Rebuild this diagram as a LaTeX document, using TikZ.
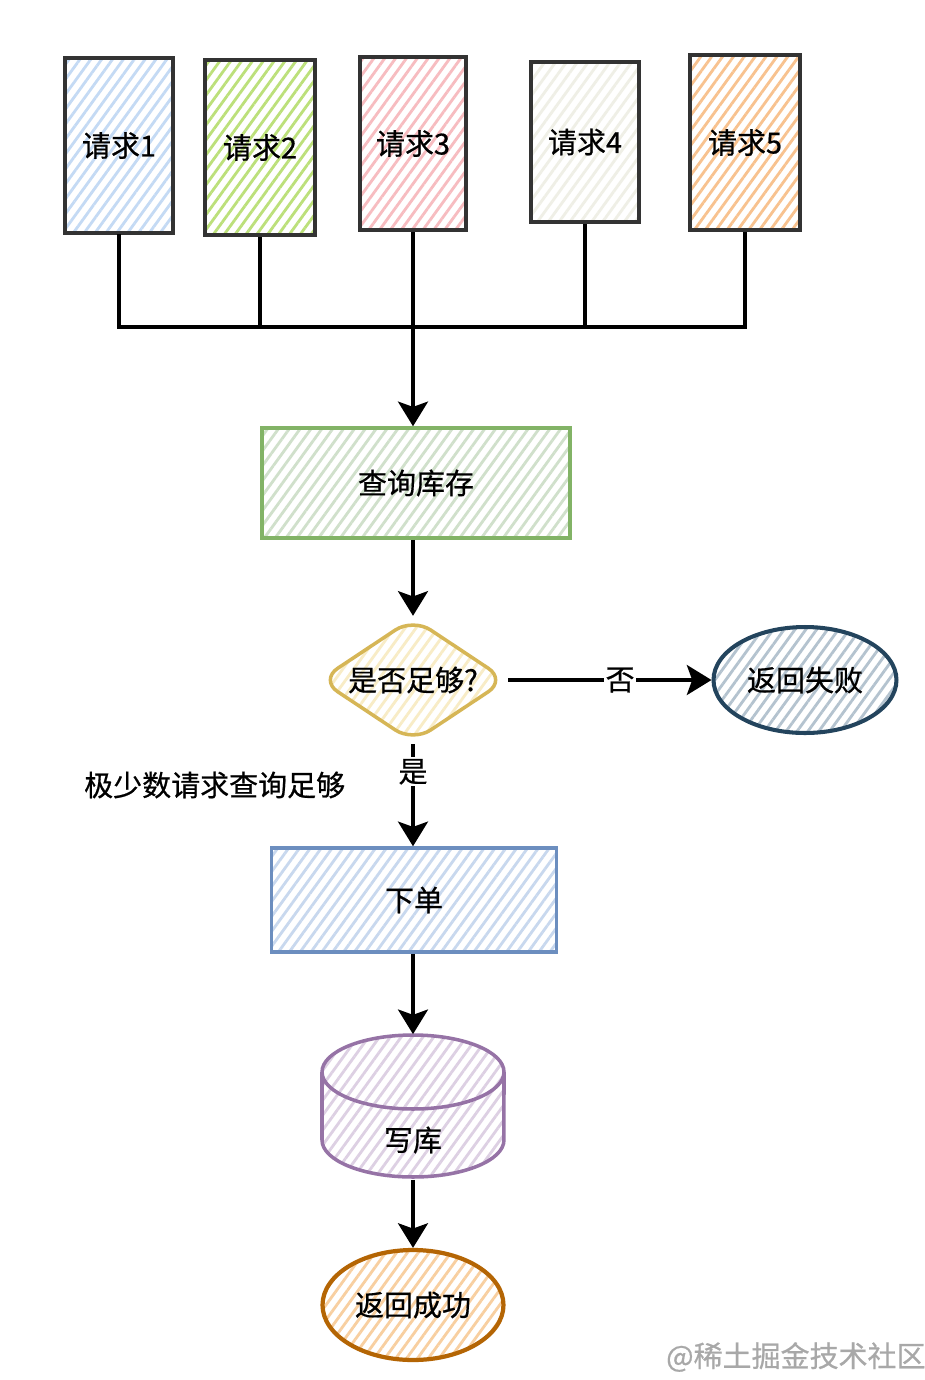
\documentclass[tikz,border=0pt]{standalone}
\usepackage{fontspec}
\newfontfamily\cjk[FakeBold=0.6]{Noto Sans CJK SC}
\usetikzlibrary{shapes.geometric,arrows.meta,patterns.meta}
\definecolor{reqborder}{HTML}{333333}
\definecolor{h1}{HTML}{C4DAF4}
\definecolor{h2}{HTML}{BCE07A}
\definecolor{h3}{HTML}{F7BCC0}
\definecolor{h4}{HTML}{EFEFE6}
\definecolor{h5}{HTML}{F8C28F}
\definecolor{qborder}{HTML}{82B366}
\definecolor{qhatch}{HTML}{D0E0CB}
\definecolor{dborder}{HTML}{D6B656}
\definecolor{dhatch}{HTML}{F8ECC6}
\definecolor{fborder}{HTML}{23445D}
\definecolor{fhatch}{HTML}{B4C3CF}
\definecolor{oborder}{HTML}{6C8EBF}
\definecolor{ohatch}{HTML}{C8D8EE}
\definecolor{cborder}{HTML}{9673A6}
\definecolor{chatch}{HTML}{DDD0E3}
\definecolor{sborder}{HTML}{B46504}
\definecolor{shatch}{HTML}{F8CFA0}
\definecolor{wm}{HTML}{A8A8A8}
\begin{document}
\begin{tikzpicture}[x=0.02cm,y=-0.02cm,
  txt/.style={font=\cjk\fontsize{16.5}{19}\selectfont, text=black},
  hatch/.style={pattern={Lines[angle=54,distance=5pt,line width=1.6pt]}, pattern color=#1},
  req/.style={txt, draw=reqborder, line width=2.4pt, minimum width=2.16cm, minimum height=3.5cm, inner sep=0pt, hatch=#1},
  proc/.style={txt, line width=2pt, inner sep=0pt},
  conn/.style={line width=2.2pt, black},
  arr/.style={conn, -{Stealth[length=14pt,width=17pt,inset=3pt]}},
  lbl/.style={txt, fill=white, inner sep=1pt}
]
\useasboundingbox (0,0) rectangle (924,1380);
\fill[white] (0,0) rectangle (924,1380);

% request boxes
\node[req=h1] (r1) at (119,145.5) {请求1};
\node[req=h2, minimum width=2.2cm] (r2) at (260,147.5) {请求2};
\node[req=h3, minimum width=2.12cm, minimum height=3.46cm] (r3) at (413,143.5) {请求3};
\node[req=h4, minimum height=3.2cm] (r4) at (585,142) {请求4};
\node[req=h5, minimum width=2.2cm] (r5) at (745,142.5) {请求5};

% process nodes
\node[proc, draw=qborder, hatch=qhatch, minimum width=6.16cm, minimum height=2.2cm] (q) at (416,483) {查询库存};
\node[proc, diamond, aspect=1.5, inner sep=2pt, draw=dborder, hatch=dhatch, rounded corners=12pt] (d) at (413,680) {是否足够?};
\node[proc, ellipse, draw=fborder, line width=2.3pt, hatch=fhatch, minimum width=3.66cm, minimum height=2.12cm] (f) at (805,680) {返回失败};
\node[proc, draw=oborder, hatch=ohatch, minimum width=5.7cm, minimum height=2.08cm] (o) at (414,900) {下单};

% cylinder (drawn by hand, named by node c)
\fill[white] (322,1072) -- (322,1140) arc[start angle=180,end angle=360,x radius=1.82cm,y radius=0.74cm] -- (504,1072) arc[start angle=0,end angle=180,x radius=1.82cm,y radius=0.74cm] -- cycle;
\path[hatch=chatch] (322,1072) -- (322,1140) arc[start angle=180,end angle=360,x radius=1.82cm,y radius=0.74cm] -- (504,1072) arc[start angle=0,end angle=180,x radius=1.82cm,y radius=0.74cm] -- cycle;
\draw[cborder, line width=2pt] (322,1072) -- (322,1140) arc[start angle=180,end angle=360,x radius=1.82cm,y radius=0.74cm] -- (504,1072);
\draw[cborder, line width=2pt] (413,1072) ellipse[x radius=1.82cm, y radius=0.74cm];
\node[txt, minimum width=3.64cm, minimum height=2.9cm, inner sep=0pt] (c) at (413,1107) {};
\node[txt] (ct) at (413,1140) {写库};

\node[proc, ellipse, draw=sborder, line width=2.4pt, hatch=shatch, minimum width=3.62cm, minimum height=2.2cm] (s) at (413,1305) {返回成功};

% bus
\coordinate (bus) at (413,327);
\draw[conn] (r1.south) |- (bus);
\draw[conn] (r2.south) |- (bus);
\draw[conn] (r4.south) |- (bus);
\draw[conn] (r5.south) |- (bus);
\draw[arr] (r3.south) -- (r3.south |- q.north);

% flow
\draw[arr] (d.north |- q.south) -- (d.north);
\draw[arr] (d.east) -- node[lbl, pos=0.55] (no) {否} (f.west);
\draw[arr] (d.south) -- node[lbl, pos=0.27] (yes) {是} (d.south |- o.north);
\draw[arr] (c.north |- o.south) -- (c.north);
\draw[arr] (c.south) -- (s.north);

% note
\node[txt, anchor=west] (note) at (78,785) {极少数请求查询足够};

% watermark
\node[txt, text=wm, anchor=west] (wmk) at (660,1357) {@稀土掘金技术社区};
\end{tikzpicture}
\end{document}
